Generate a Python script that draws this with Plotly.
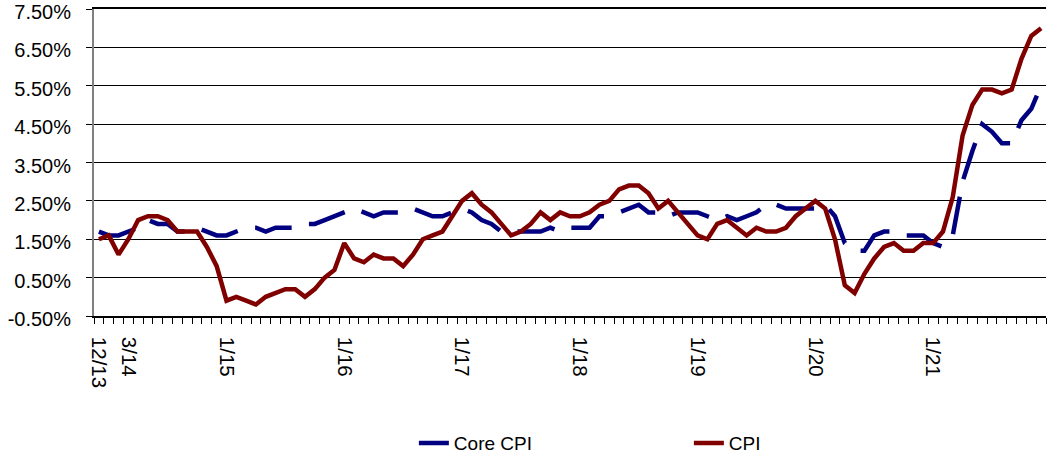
import plotly.graph_objects as go

# Monthly, 12/2013 .. 12/2021 (year-over-year %)
months = [f"{m}/{y:02d}" for y in range(13, 22) for m in range(1, 13)][11:]

cpi = [1.5,
       1.6, 1.1, 1.5, 2.0, 2.1, 2.1, 2.0, 1.7, 1.7, 1.7, 1.3, 0.8,
       -0.1, 0.0, -0.1, -0.2, 0.0, 0.1, 0.2, 0.2, 0.0, 0.2, 0.5, 0.7,
       1.4, 1.0, 0.9, 1.1, 1.0, 1.0, 0.8, 1.1, 1.5, 1.6, 1.7, 2.1,
       2.5, 2.7, 2.4, 2.2, 1.9, 1.6, 1.7, 1.9, 2.2, 2.0, 2.2, 2.1,
       2.1, 2.2, 2.4, 2.5, 2.8, 2.9, 2.9, 2.7, 2.3, 2.5, 2.2, 1.9,
       1.6, 1.5, 1.9, 2.0, 1.8, 1.6, 1.8, 1.7, 1.7, 1.8, 2.1, 2.3,
       2.5, 2.3, 1.5, 0.3, 0.1, 0.6, 1.0, 1.3, 1.4, 1.2, 1.2, 1.4,
       1.4, 1.7, 2.6, 4.2, 5.0, 5.4, 5.4, 5.3, 5.4, 6.2, 6.8, 7.0]

core_cpi = [1.7,
            1.6, 1.6, 1.7, 1.8, 2.0, 1.9, 1.9, 1.7, 1.7, 1.8, 1.7, 1.6,
            1.6, 1.7, 1.8, 1.8, 1.7, 1.8, 1.8, 1.8, 1.9, 1.9, 2.0, 2.1,
            2.2, 2.3, 2.2, 2.1, 2.2, 2.2, 2.2, 2.3, 2.2, 2.1, 2.1, 2.2,
            2.3, 2.2, 2.0, 1.9, 1.7, 1.7, 1.7, 1.7, 1.7, 1.8, 1.7, 1.8,
            1.8, 1.8, 2.1, 2.1, 2.2, 2.3, 2.4, 2.2, 2.2, 2.1, 2.2, 2.2,
            2.2, 2.1, 2.0, 2.1, 2.0, 2.1, 2.2, 2.4, 2.4, 2.3, 2.3, 2.3,
            2.3, 2.4, 2.1, 1.4, 1.2, 1.2, 1.6, 1.7, 1.7, 1.6, 1.6, 1.6,
            1.4, 1.3, 1.6, 3.0, 3.8, 4.5, 4.3, 4.0, 4.0, 4.6, 4.9, 5.5]

tick_labels = ["12/13", "3/14", "1/15", "1/16", "1/17", "1/18", "1/19", "1/20", "1/21"]
y_ticks = [-0.5, 0.5, 1.5, 2.5, 3.5, 4.5, 5.5, 6.5, 7.5]

x = list(range(len(months)))
tick_pos = [months.index(t) for t in tick_labels]

FONT = "Liberation Sans, Arial, sans-serif"

fig = go.Figure()
fig.add_trace(go.Scatter(
    x=x, y=core_cpi, name="Core CPI", mode="lines",
    line=dict(color="#000080", width=4.5, dash="38px,18px"),
))
fig.add_trace(go.Scatter(
    x=x, y=cpi, name="CPI", mode="lines",
    line=dict(color="#800000", width=4.5),
))

fig.update_layout(
    width=1057, height=459,
    margin=dict(l=94, r=11, t=9, b=143, autoexpand=False),
    paper_bgcolor="white", plot_bgcolor="white",
    font=dict(family=FONT, color="black"),
    showlegend=True,
    legend=dict(
        orientation="h", x=0.336, xanchor="left", y=-0.414, yanchor="middle",
        font=dict(size=19, family=FONT), entrywidth=230, entrywidthmode="pixels",
        bgcolor="rgba(0,0,0,0)",
    ),
)

fig.update_xaxes(
    range=[-0.5, len(months) - 0.5], automargin=False,
    tickmode="array", tickvals=tick_pos, ticktext=tick_labels,
    tickangle=90, tickfont=dict(size=20.5, family=FONT),
    ticks="", showgrid=False, zeroline=False,
    showline=True, linecolor="black", linewidth=1.5, mirror=True,
    ticklabelstandoff=15,
    minor=dict(ticks="outside", tick0=-0.5, dtick=1, ticklen=6,
               tickcolor="black", tickwidth=1, showgrid=False),
)

fig.update_yaxes(
    range=[-0.5, 7.5], automargin=False,
    tickmode="array", tickvals=y_ticks,
    ticktext=[f"{v:.2f}%" for v in y_ticks],
    tickfont=dict(size=20, family=FONT),
    ticklabeloverflow="allow", ticklabelshift=3,
    ticks="outside", ticklen=6, tickcolor="black", tickwidth=1,
    showgrid=True, gridcolor="black", gridwidth=1,
    zeroline=False,
    showline=True, linecolor="#808080", linewidth=2,
    ticklabelstandoff=11,
)

fig.write_html(
    "out.html",
    config={"displayModeBar": False},
    post_script="document.body.style.margin='0';document.body.style.overflow='hidden';",
)
